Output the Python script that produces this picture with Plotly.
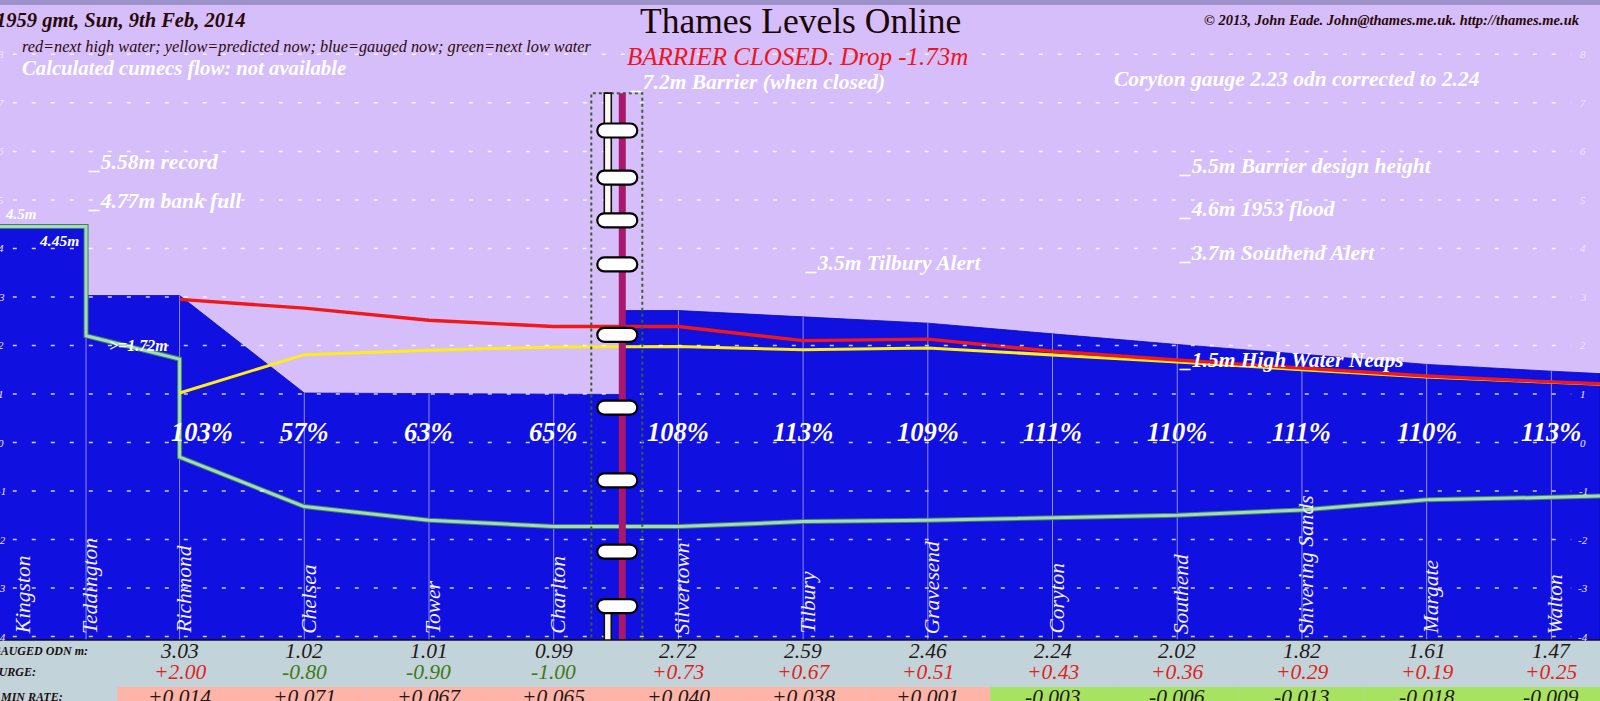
import plotly.graph_objects as go

# ---------------- data ----------------
stations = ["Kingston", "Teddington", "Richmond", "Chelsea", "Tower", "Charlton", "Silvertown",
            "Tilbury", "Gravesend", "Coryton", "Southend", "Shivering Sands", "Margate", "Walton"]
station_pos = [-0.29, 0.25, 1, 2, 3, 4, 5, 6, 7, 8, 9, 10, 11, 12]

# tidal stations Richmond .. Walton (table columns)
gauged = [3.03, 1.02, 1.01, 0.99, 2.72, 2.59, 2.46, 2.24, 2.02, 1.82, 1.61, 1.47]
surge = [2.00, -0.80, -0.90, -1.00, 0.73, 0.67, 0.51, 0.43, 0.36, 0.29, 0.19, 0.25]
rate = [0.014, 0.071, 0.067, 0.065, 0.040, 0.038, 0.001, -0.003, -0.006, -0.013, -0.018, -0.009]
percent = [103, 57, 63, 65, 108, 113, 109, 111, 110, 111, 110, 113]
high_water = [2.95, 2.77, 2.52, 2.39, 2.39, 2.10, 2.13, 1.88, 1.70, 1.53, 1.37, 1.25]
predicted = [1.02, 1.81, 1.90, 1.97, 1.98, 1.91, 1.95, 1.81, 1.66, 1.50, 1.35, 1.24]
low_water = [-0.30, -1.32, -1.60, -1.73, -1.73, -1.63, -1.60, -1.55, -1.50, -1.39, -1.18, -1.13]

kingston_level = 4.45
kingston_fixed = 4.5
teddington_low_below = 2.20
richmond_low_above = 1.72

left_edge_pos = -0.44
right_edge_pos = 12.39
edge_gauged, edge_high, edge_pred, edge_low = 1.42, 1.21, 1.20, -1.10

barrier_pos = 4.55
barrier_top = 7.2
gate_levels = [6.43, 5.46, 4.58, 3.67, 2.22, 0.72, -0.78, -2.25, -3.37]

y_min, y_max = -4.07, 9.12
tick_vals = [-4, -3, -2, -1, 0, 1, 2, 3, 4, 5, 6, 7, 8]

ref_levels = [
    (5.58, "_5.58m record", "Teddington"),
    (4.77, "_4.77m bank full", "Teddington"),
    (3.5, "_3.5m Tilbury Alert", "Tilbury"),
    (5.5, "_5.5m Barrier design height", "Southend"),
    (4.6, "_4.6m 1953 flood", "Southend"),
    (3.7, "_3.7m Southend Alert", "Southend"),
    (1.5, "_1.5m High Water Neaps", "Southend"),
]

# ---------------- styles ----------------
LAV = "#D5BEFA"
BLUE = "#1010E0"
SERIF = "Liberation Serif"
W, H = 1600, 701
PLOT_H = 640

tidal_pos = station_pos[2:]
pos_of = dict(zip(stations, station_pos))

fig = go.Figure()

# gauged-now profile (blue)
bx = [left_edge_pos, pos_of["Teddington"], pos_of["Teddington"]] + tidal_pos[:4] + \
     [barrier_pos, barrier_pos] + tidal_pos[4:] + [right_edge_pos, right_edge_pos, left_edge_pos]
by = [kingston_level, kingston_level, gauged[0]] + gauged[:4] + \
     [gauged[3], gauged[4]] + gauged[4:] + [edge_gauged, y_min, y_min]
fig.add_trace(go.Scatter(x=bx, y=by, fill="toself", fillcolor=BLUE, mode="lines",
                         line=dict(width=0.8, color="#0A0AB0"), hoverinfo="skip"))

# station verticals inside the water
vx, vy = [], []
levels_at = [kingston_level] + gauged
for p, lv in zip(station_pos[1:], levels_at):
    vx += [p, p, None]
    vy += [y_min, lv, None]
fig.add_trace(go.Scatter(x=vx, y=vy, mode="lines", line=dict(width=1, color="#8E8CF6"),
                         hoverinfo="skip"))

# next low water (green)
gx = [left_edge_pos, pos_of["Teddington"], pos_of["Teddington"], pos_of["Richmond"]] + tidal_pos + [right_edge_pos]
gy = [kingston_level, kingston_level, teddington_low_below, richmond_low_above] + low_water + [edge_low]
fig.add_trace(go.Scatter(x=gx, y=gy, mode="lines", line=dict(width=5, color="#3F7F6A"), hoverinfo="skip"))
fig.add_trace(go.Scatter(x=gx, y=gy, mode="lines", line=dict(width=3, color="#A4DAB4"), hoverinfo="skip"))

# predicted now (yellow) and next high water (red)
fig.add_trace(go.Scatter(x=tidal_pos + [right_edge_pos], y=predicted + [edge_pred], mode="lines",
                         line=dict(width=3, color="#FFEC1C"), hoverinfo="skip"))
fig.add_trace(go.Scatter(x=tidal_pos + [right_edge_pos], y=high_water + [edge_high], mode="lines",
                         line=dict(width=3.4, color="#F01818"), hoverinfo="skip"))

shapes = []
# top dark band
shapes.append(dict(type="rect", xref="paper", yref="paper", x0=0, x1=1, y0=1 - 5 / PLOT_H, y1=1,
                   fillcolor="#9D91C9", line=dict(width=0), layer="above"))
# dashed grid above the water
for v in tick_vals:
    shapes.append(dict(type="line", xref="paper", yref="y", x0=0.008, x1=0.982, y0=v, y1=v,
                       line=dict(color="rgba(255,255,255,0.8)", width=1.5, dash="4px,15px"),
                       layer="above"))
# barrier: dotted box, pier, gate arms, gates
shapes.append(dict(type="rect", xref="x", yref="y", xsizemode="pixel", xanchor=barrier_pos,
                   x0=-31, x1=20, y0=y_min - 0.2, y1=barrier_top,
                   line=dict(color="#3B5E2E", width=2, dash="dot"), layer="above"))
shapes.append(dict(type="rect", xref="x", yref="y", xsizemode="pixel", xanchor=barrier_pos,
                   x0=-3.5, x1=3.5, y0=y_min - 0.2, y1=barrier_top,
                   fillcolor="#A8186C", line=dict(width=0), layer="above"))
for y0, y1 in [(gate_levels[2], barrier_top), (y_min - 0.2, gate_levels[-1])]:
    shapes.append(dict(type="rect", xref="x", yref="y", xsizemode="pixel", xanchor=barrier_pos,
                       x0=-18, x1=-11, y0=y0, y1=y1, fillcolor="#FFF8F0",
                       line=dict(color="#111", width=1.6), layer="above"))
cx, hw, hh = -5, 20, 7
k = 0.55 * hh
def pill(c):
    a, b = c - hw + hh, c + hw - hh
    return (f"M{a},{hh} L{b},{hh} C{b + k},{hh} {c + hw},{k} {c + hw},0 "
            f"C{c + hw},{-k} {b + k},{-hh} {b},{-hh} L{a},{-hh} "
            f"C{a - k},{-hh} {c - hw},{-k} {c - hw},0 C{c - hw},{k} {a - k},{hh} {a},{hh} Z")
for g in gate_levels:
    shapes.append(dict(type="path", xref="x", yref="y", xsizemode="pixel", ysizemode="pixel",
                       xanchor=barrier_pos, yanchor=g, path=pill(cx), fillcolor="#FFFFFF",
                       line=dict(color="#000", width=2.2), layer="above"))

# table background
tb = -(H - PLOT_H) / PLOT_H
shapes.append(dict(type="rect", xref="paper", yref="paper", x0=0, x1=1, y0=tb, y1=0,
                   fillcolor="#C3D3DA", line=dict(width=0), layer="above"))
row3_top = -(687 - PLOT_H) / PLOT_H
for p, r in zip(tidal_pos, rate):
    shapes.append(dict(type="rect", xref="x", yref="paper", x0=p - 0.5, x1=p + 0.5, y0=tb, y1=row3_top,
                       fillcolor="#FFB4A8" if r > 0 else "#A7E360", line=dict(width=0), layer="above"))
shapes.append(dict(type="line", xref="paper", yref="paper", x0=0, x1=1, y0=0, y1=0,
                   line=dict(color="#111", width=1.5), layer="above"))

ann = []
def A(**kw):
    kw.setdefault("showarrow", False)
    ann.append(kw)

def F(size, color, bold=False, italic=True):
    return dict(family=SERIF, size=size, color=color,
                style="italic" if italic else "normal", weight="bold" if bold else "normal")

LBL = 21.5

# axis labels right & left
for v in tick_vals:
    A(x=1583 / W, y=v, xref="paper", yref="y", text=str(v), font=F(11, "#EEE6FF"), xanchor="center", yanchor="middle")
    A(x=1 / W, y=v, xref="paper", yref="y", text=str(v), font=F(11, "#EEE6FF"), xanchor="center", yanchor="middle")

# headers
A(x=0.5, y=1 - 21 / PLOT_H, xref="paper", yref="paper", text="Thames Levels Online",
  font=F(35.5, "#1A0606", italic=False), xanchor="center", yanchor="middle")
A(x=0.4985, y=1 - 56 / PLOT_H, xref="paper", yref="paper", text="BARRIER CLOSED. Drop -1.73m",
  font=F(25, "#EE1420"), xanchor="center", yanchor="middle")
A(x=-6 / W, y=1 - 20 / PLOT_H, xref="paper", yref="paper", text="1959 gmt, Sun, 9th Feb, 2014",
  font=F(20.5, "#2A0808", bold=True), xanchor="left", yanchor="middle")
A(x=20 / W, y=1 - 46 / PLOT_H, xref="paper", yref="paper",
  text="red=next high water; yellow=predicted now; blue=gauged now; green=next low water",
  font=F(16.3, "#2A0A0A"), xanchor="left", yanchor="middle")
A(x=20 / W, y=1 - 69 / PLOT_H, xref="paper", yref="paper", text="Calculated cumecs flow: not available",
  font=F(20.7, "#FFFFFF", bold=True), xanchor="left", yanchor="middle")
A(x=1582 / W, y=1 - 20 / PLOT_H, xref="paper", yref="paper",
  text="© 2013, John Eade. John@thames.me.uk. http://thames.me.uk",
  font=F(14.5, "#2A0808", bold=True), xanchor="right", yanchor="middle")
A(x=1112 / W, y=1 - 79 / PLOT_H, xref="paper", yref="paper", text="Coryton gauge 2.23 odn corrected to 2.24",
  font=F(LBL, "#FFFFFF", bold=True), xanchor="left", yanchor="middle")

# reference levels
A(x=barrier_pos, y=barrier_top, xref="x", yref="y", xshift=6, yshift=-3, text="_7.2m Barrier (when closed)",
  font=F(LBL, "#FFFFFF", bold=True), xanchor="left", yanchor="bottom")
for lv, txt, st in ref_levels:
    A(x=pos_of[st], y=lv, xref="x", yref="y", yshift=-4, text=txt, font=F(LBL, "#FFFFFF", bold=True),
      xanchor="left", yanchor="bottom")
A(x=left_edge_pos, y=kingston_fixed, xref="x", yref="y", xshift=3, text=f"{kingston_fixed}m",
  font=F(15, "#FFFFFF", bold=True), xanchor="left", yanchor="bottom")
A(x=pos_of["Teddington"], y=kingston_level, xref="x", yref="y", xshift=-5, yshift=-3, text=f"{kingston_level}m",
  font=F(15.5, "#FFFFFF", bold=True), xanchor="right", yanchor="top")
A(x=pos_of["Richmond"], y=richmond_low_above, xref="x", yref="y", xshift=-10, yshift=3,
  text=f">={richmond_low_above}m", font=F(16, "#FFFFFF", bold=True), xanchor="right", yanchor="bottom")

# percentages
for i, (p, pc) in enumerate(zip(tidal_pos, percent)):
    A(x=p, y=0, xref="x", yref="y", xshift=22 if i == 0 else 0, yshift=-6, text=f"{pc}%",
      font=F(26.5, "#FFFFFF", bold=True), xanchor="center", yanchor="bottom")

# station names
for s, p in zip(stations, station_pos):
    A(x=p, y=y_min, xref="x", yref="y", xshift=4, yshift=4, text=s, textangle=-90,
      font=F(21.5, "#F4F0FF"), xanchor="center", yanchor="bottom")

# table
rows_y = [651, 672, 697]
row_names = ["GAUGED ODN m:", "SURGE:", "5 MIN RATE:"]
for nm, ry in zip(row_names, rows_y):
    A(x=-9 / W, y=(PLOT_H - ry) / PLOT_H, xref="paper", yref="paper", text=nm, borderpad=0,
      font=F(12, "#1A1010", bold=True), xanchor="left", yanchor="middle")
for p, g, s, r in zip(tidal_pos, gauged, surge, rate):
    A(x=p, y=(PLOT_H - rows_y[0]) / PLOT_H, xref="x", yref="paper", text=f"{g:.2f}", borderpad=0,
      font=F(21.5, "#221818"), xanchor="center", yanchor="middle")
    A(x=p, y=(PLOT_H - rows_y[1]) / PLOT_H, xref="x", yref="paper", text=f"{s:+.2f}", borderpad=0,
      font=F(21.5, "#E0231A" if s > 0 else "#3E7A12"), xanchor="center", yanchor="middle")
    A(x=p, y=(PLOT_H - rows_y[2]) / PLOT_H, xref="x", yref="paper", text=f"{r:+.3f}", borderpad=0,
      font=F(21.5, "#221818"), xanchor="center", yanchor="middle")

fig.update_layout(
    width=W, height=H, margin=dict(l=0, r=0, t=0, b=H - PLOT_H, pad=0),
    paper_bgcolor="#C3D3DA", plot_bgcolor=LAV, showlegend=False,
    xaxis=dict(range=[left_edge_pos, right_edge_pos], visible=False, fixedrange=True),
    yaxis=dict(range=[y_min, y_max], visible=False, fixedrange=True),
    shapes=shapes, annotations=ann,
)

fig.write_html("out.html", config={"displayModeBar": False},
               post_script="document.body.style.margin='0';document.body.style.overflow='hidden';")
